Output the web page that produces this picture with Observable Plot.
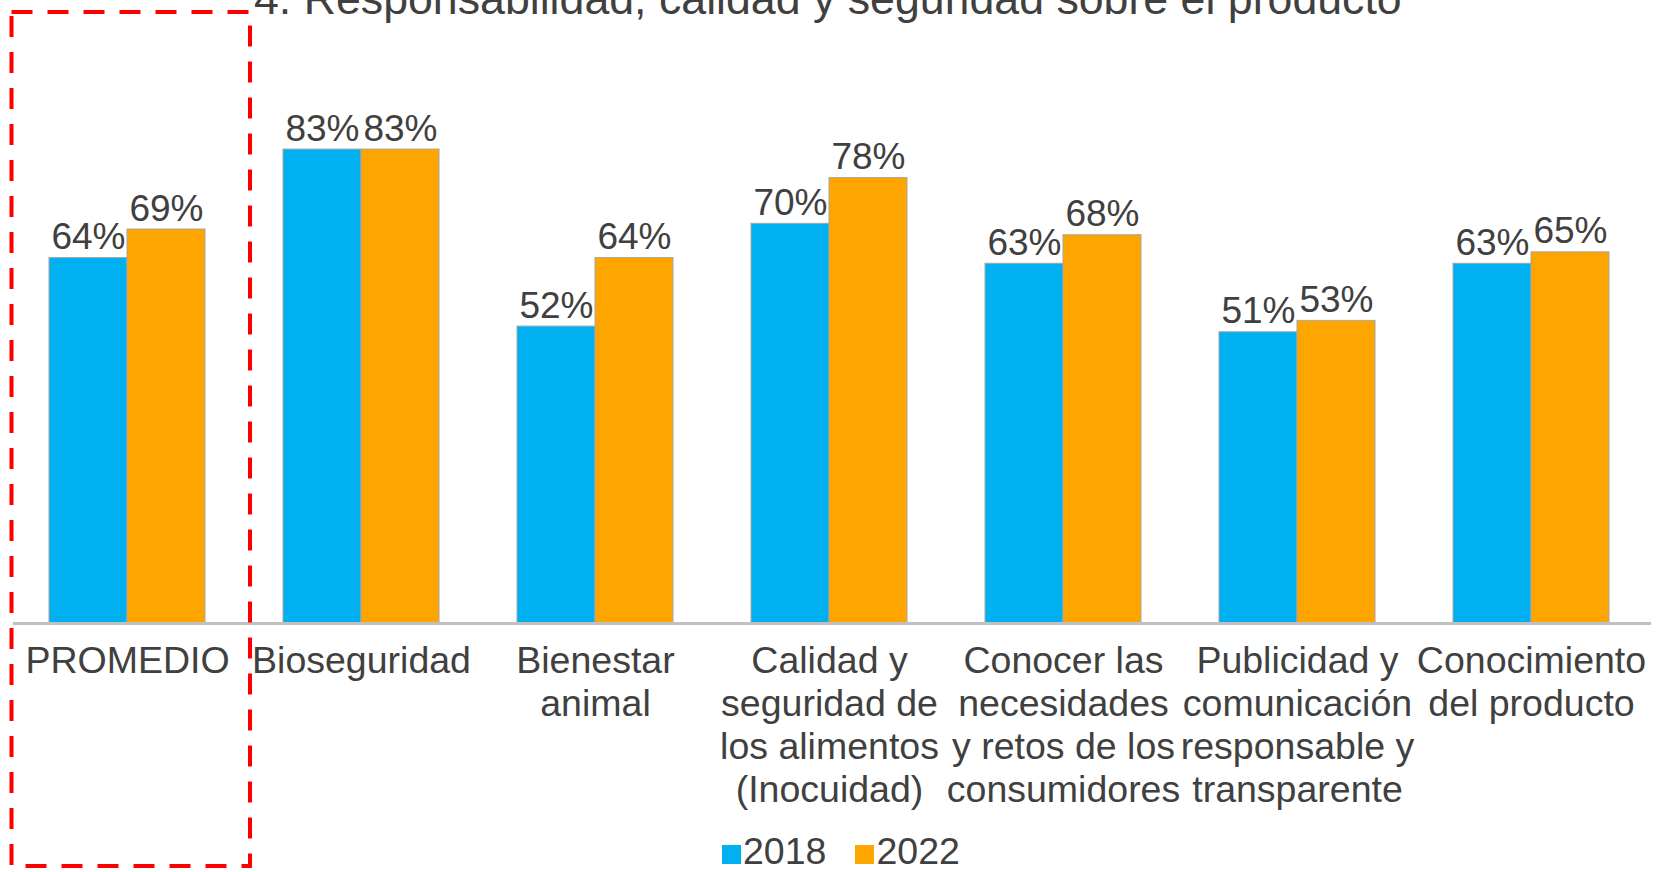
<!DOCTYPE html>
<html>
<head>
<meta charset="utf-8">
<script src="https://cdn.jsdelivr.net/npm/d3@7"></script>
<script src="https://cdn.jsdelivr.net/npm/@observablehq/plot@0.6"></script>
<style>
  html, body { margin: 0; padding: 0; background: #fff; }
  body { position: relative; width: 1660px; height: 872px; overflow: hidden; font-family: "Liberation Sans", Arial, sans-serif; color: #404040; }
  #title { position: absolute; left: 254px; top: -24px; font-size: 44.7px; line-height: 45px; white-space: nowrap; color: #404040; }
  #chart { position: absolute; left: 0; top: 0; }
  #legend { position: absolute; left: 722px; top: 836px; display: flex; align-items: baseline; font-size: 37.5px; line-height: 30px; color: #404040; }
  #legend .sw { display: inline-block; width: 19px; height: 19px; margin-right: 2px; }
  #legend .item { display: flex; align-items: baseline; }
  #legend .item + .item { margin-left: 29px; }
  #overlay { position: absolute; left: 0; top: 0; pointer-events: none; }
</style>
</head>
<body>
<div id="title">4. Responsabilidad, calidad y seguridad sobre el producto</div>
<div id="chart"></div>
<div id="legend"></div>
<svg id="overlay" width="1660" height="872"><rect x="11.5" y="12" width="238.5" height="854" fill="none" stroke="#ff0000" stroke-width="4" stroke-dasharray="21 15"></rect></svg>
<script>
const categories = [
  "PROMEDIO",
  "Bioseguridad",
  "Bienestar animal",
  "Calidad y seguridad de los alimentos (Inocuidad)",
  "Conocer las necesidades y retos de los consumidores",
  "Publicidad y comunicación responsable y transparente",
  "Conocimiento del producto"
];
const tickLabels = [
  "PROMEDIO",
  "Bioseguridad",
  "Bienestar\nanimal",
  "Calidad y\nseguridad de\nlos alimentos\n(Inocuidad)",
  "Conocer las\nnecesidades\ny retos de los\nconsumidores",
  "Publicidad y\ncomunicación\nresponsable y\ntransparente",
  "Conocimiento\ndel producto"
];
const series = ["2018", "2022"];
const values2018 = [64, 83, 52, 70, 63, 51, 63];
const values2022 = [69, 83, 64, 78, 68, 53, 65];
const colors = ["#00B0F0", "#FFA500"];

const data = categories.flatMap((c, i) => [
  {cat: c, year: series[0], v: values2018[i]},
  {cat: c, year: series[1], v: values2022[i]}
]);

const chart = Plot.plot({
  width: 1660,
  height: 822,
  marginLeft: 9,
  marginRight: 11,
  marginTop: 52,
  marginBottom: 199,
  style: {fontFamily: "'Liberation Sans', Arial, sans-serif", background: "transparent"},
  fx: {domain: categories, paddingInner: 0.332, paddingOuter: 0.166, label: null},
  x: {domain: series, padding: 0, axis: null},
  y: {domain: [0, 100], axis: null},
  color: {domain: series, range: colors},
  marks: [
    Plot.barY(data, {fx: "cat", x: "year", y: "v", fill: "year", stroke: "#a6a6a6", strokeWidth: 1}),
    Plot.text(data, {fx: "cat", x: "year", y: "v", text: d => d.v + "%", lineAnchor: "bottom", dy: -9, fontSize: 37, fill: "#404040"}),
    Plot.frame({facet: "super", anchor: "bottom", stroke: "#c0c0c0", strokeWidth: 3, insetLeft: -35, insetRight: -40}),
    Plot.axisFx({anchor: "bottom", tickSize: 0, tickPadding: 19, fontSize: 37.5, lineHeight: 1.15, color: "#404040", label: null,
      tickFormat: d => tickLabels[categories.indexOf(d)]})
  ]
});
document.getElementById("chart").appendChild(chart);

const legend = document.getElementById("legend");
series.forEach((s, i) => {
  const item = document.createElement("div");
  item.className = "item";
  const sw = document.createElement("span");
  sw.className = "sw";
  sw.style.background = colors[i];
  const t = document.createElement("span");
  t.textContent = s;
  item.appendChild(sw);
  item.appendChild(t);
  legend.appendChild(item);
});
</script>
</body>
</html>
